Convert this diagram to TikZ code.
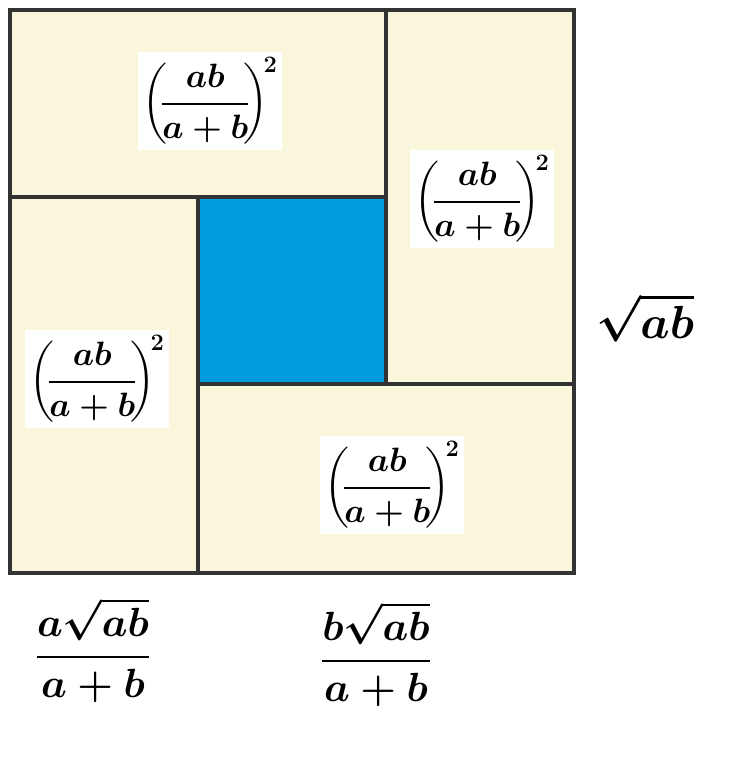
\RequirePackage{fix-cm}
\documentclass[tikz,border=0pt]{standalone}
\usepackage{amsmath,amssymb}
\usetikzlibrary{positioning}
\definecolor{cream}{RGB}{250,246,220}
\definecolor{sqblue}{RGB}{0,158,222}
\definecolor{edgegray}{RGB}{51,51,51}
\newcommand{\sqterm}{$\displaystyle\left(\mkern-3mu\frac{ab}{a+b}\mkern-3mu\right)^{\!2}$}

\begin{document}
\begin{tikzpicture}[x=0.025cm,y=-0.025cm,
  cell/.style={fill=cream,draw=edgegray,line width=2.6pt},
  sqlabel/.style={fill=white,inner sep=0pt,minimum width=3.6cm,minimum height=2.45cm,
    font=\fontsize{24}{29}\selectfont\boldmath},
  sidelabel/.style={inner sep=0pt,font=\fontsize{29}{35}\selectfont\boldmath}]
\useasboundingbox (0,0) rectangle (738,784);
\fill[white] (0,0) rectangle (738,784);
\coordinate (tl) at (10,10);
\coordinate (br) at (574,573);
\coordinate (c1) at (198,197);
\coordinate (c2) at (386,384);
\draw[cell] (tl) rectangle (386,197);
\draw[cell] (386,10) rectangle (574,384);
\draw[cell] (198,384) rectangle (br);
\draw[cell] (10,197) rectangle (198,573);
\draw[cell,fill=sqblue] (c1) rectangle (c2);
\node[sqlabel] (sqtop) at (210,101) {\sqterm};
\node[sqlabel] (sqright) at (482,199) {\sqterm};
\node[sqlabel] (sqleft) at (97,379) {\sqterm};
\node[sqlabel] (sqbottom) at (392,485) {\sqterm};
\node[sidelabel,font=\fontsize{33}{40}\selectfont\boldmath] (side) at (645,318) {$\sqrt{ab}$};
\node[sidelabel] (partA) at (93,650) {$\dfrac{a\sqrt{ab}}{a+b}$};
\node[sidelabel] (partB) at (376,654) {$\dfrac{b\sqrt{ab}}{a+b}$};
\end{tikzpicture}
\end{document}
